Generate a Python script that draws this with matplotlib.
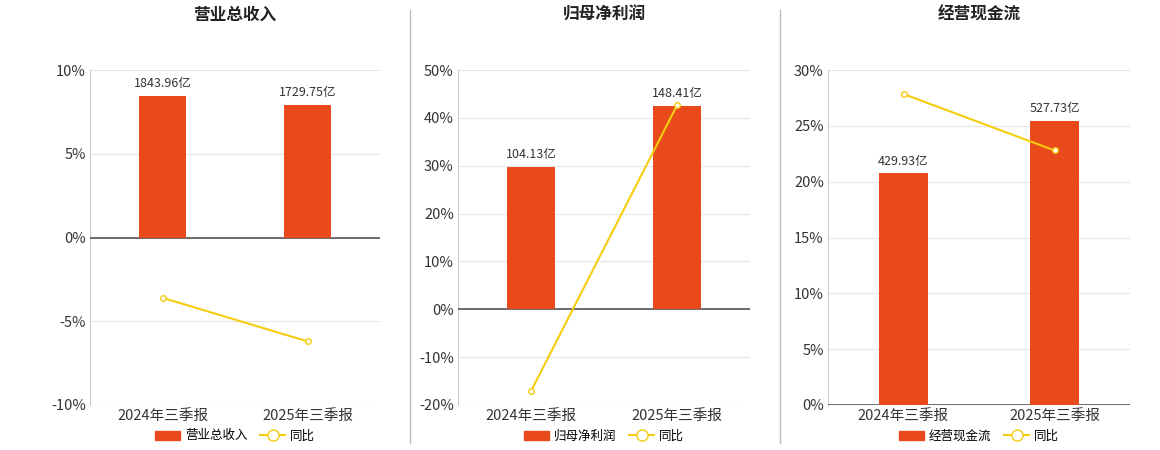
import matplotlib
matplotlib.use("Agg")
import matplotlib.pyplot as plt
from matplotlib.lines import Line2D
from matplotlib.patches import Patch

plt.rcParams['font.family'] = ['Noto Sans CJK SC', 'DejaVu Sans']

categories = ["2024年三季报", "2025年三季报"]
titles = ["营业总收入", "归母净利润", "经营现金流"]
bar_values = [[1843.96, 1729.75], [104.13, 148.41], [429.93, 527.73]]
bar_labels = [["1843.96亿", "1729.75亿"], ["104.13亿", "148.41亿"], ["429.93亿", "527.73亿"]]
yoy = [[-3.6, -6.2], [-17.1, 42.6], [27.85, 22.8]]
pct_lims = [(-10, 10), (-20, 50), (0, 30)]
pct_steps = [5, 10, 5]
bar_lims = [(-2182, 2182), (-69.9, 174.7), (0, 621.6)]

BAR = "#E84A1B"
LINE = "#F5CC0E"

fig = plt.figure(figsize=(11.6, 4.5), dpi=100)
W, H = 1160, 450
boxes = [(90, 380), (458, 750), (828, 1130)]
for i in range(3):
    x0, x1 = boxes[i]
    ax = fig.add_axes([x0 / W, 1 - 405 / H, (x1 - x0) / W, 335 / H])
    lo, hi = pct_lims[i]
    ticks = list(range(lo, hi + 1, pct_steps[i]))
    ax.set_ylim(lo, hi)
    ax.set_yticks(ticks)
    ax.set_yticklabels([f"{t}%" for t in ticks], fontsize=10.5, color="#333")
    ax.set_xlim(-0.5, 1.5)
    ax.set_xticks([0, 1])
    ax.set_xticklabels(categories, fontsize=10.5, color="#333")
    ax.tick_params(axis='x', length=0, pad=3)
    ax.tick_params(axis='y', length=0, pad=3)
    for t in ticks:
        ax.axhline(t, color="#e6e6e6", lw=0.8, zorder=0)
    ax.axhline(0, color="#555", lw=1.2, zorder=3)
    for s in ["top", "right", "bottom"]:
        ax.spines[s].set_visible(False)
    ax.spines["left"].set_color("#ccc")
    ax.set_title(titles[i], fontsize=12, fontweight="bold", color="#222", pad=36)

    ax2 = ax.twinx()
    ax2.set_ylim(*bar_lims[i])
    ax2.set_yticks([])
    for s in ax2.spines.values():
        s.set_visible(False)
    ax2.bar([0, 1], bar_values[i], width=0.33, color=BAR, zorder=2)
    for j, v in enumerate(bar_values[i]):
        ax2.annotate(bar_labels[i][j], (j, v), xytext=(0, 4), textcoords="offset points",
                     ha="center", va="bottom", fontsize=9, color="#333")
    ax3 = ax.twinx()
    ax3.set_ylim(lo, hi)
    ax3.set_yticks([])
    for s in ax3.spines.values():
        s.set_visible(False)
    ax3.plot([0, 1], yoy[i], color=LINE, lw=1.5, marker="o", ms=4,
             markerfacecolor="white", markeredgecolor=LINE, zorder=5)

    handles = [Patch(color=BAR), Line2D([0], [0], color=LINE, lw=1.5, marker="o", ms=8,
                                         markerfacecolor="white", markeredgecolor=LINE)]
    fig.legend(handles, [titles[i], "同比"], loc="center",
               bbox_to_anchor=((x0 + x1) / 2 / W, 1 - 436 / H), ncol=2, frameon=False,
               fontsize=9, handlelength=2, columnspacing=1, handletextpad=0.4)

for x in (410, 780):
    fig.add_artist(Line2D([x / W, x / W], [1 - 443 / H, 1 - 10 / H], color="#bbb", lw=1))

fig.savefig("out.png", dpi=100)
